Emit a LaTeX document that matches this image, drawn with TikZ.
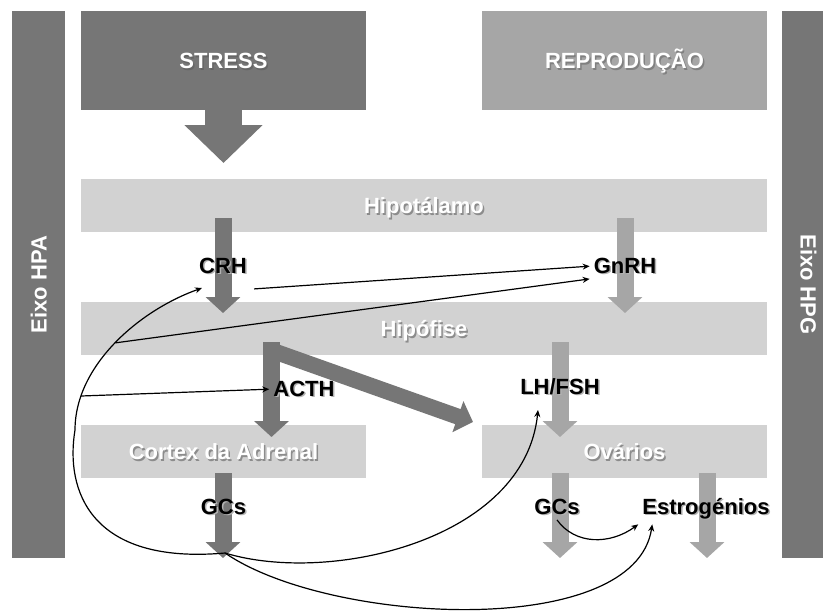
\documentclass[tikz,border=0pt]{standalone}
\usepackage{fontspec}
\setmainfont{Liberation Sans}
\usetikzlibrary{arrows.meta}
\definecolor{axisgray}{HTML}{767676}
\definecolor{midgray}{HTML}{A6A6A6}
\definecolor{bandgray}{HTML}{D2D2D2}
\newcommand\shd[2]{\rlap{\kern1.5pt\raisebox{-1.5pt}{\textcolor{#1}{#2}}}#2}
\tikzset{
  every node/.style={font=\fontsize{22}{26}\selectfont\bfseries},
  box/.style={inner sep=0pt, text height=16pt, text depth=0pt, text=white},
  darkbox/.style={box, fill=axisgray},
  midbox/.style={box, fill=midgray},
  band/.style={box, fill=bandgray},
  hormone/.style={inner sep=4pt, anchor=base},
  blockdark/.style={draw=axisgray, line width=17pt, -{Triangle[length=16pt,width=34pt]}},
  blocklight/.style={draw=midgray, line width=17pt, -{Triangle[length=16pt,width=34pt]}},
  link/.style={-{Stealth[length=7pt,width=6pt]}, line width=1.2pt}
}
\begin{document}
\begin{tikzpicture}[x=1pt,y=-1pt]
\clip (0,0) rectangle (823,614);
\fill[white] (0,0) rectangle (823,614);
\node[darkbox, rotate=90, minimum width=547pt, minimum height=53pt] (hpa) at (38.5,284.5) {Eixo HPA};
\node[darkbox, rotate=-90, minimum width=547pt, minimum height=53pt] (hpg) at (808.5,284.5) {Eixo HPG};
\node[darkbox, minimum width=285pt, minimum height=99pt] (stress) at (223.5,60.5) {\shd{black!60}{STRESS}};
\node[midbox, minimum width=285pt, minimum height=99pt] (repro) at (624.5,60.5) {\shd{black!50}{REPRODUÇÃO}};
\node[band, minimum width=686pt, minimum height=53pt] (hipot) at (424,205.5) {\shd{black!45}{Hipotálamo}};
\node[band, minimum width=686pt, minimum height=53pt] (hipof) at (424,328.5) {\shd{black!45}{Hipófise}};
\node[band, minimum width=285pt, minimum height=53pt] (cortex) at (223.5,451.5) {\shd{black!45}{Cortex da Adrenal}};
\node[band, minimum width=285pt, minimum height=53pt] (ovarios) at (624.5,451.5) {\shd{black!45}{Ovários}};
\draw[draw=axisgray, line width=37pt, -{Triangle[length=38pt,width=76pt]}] ([yshift=1pt]stress.south) -- (223.5,163);
\draw[blockdark] (223,218) -- (223,313);
\draw[blocklight] (625,218) -- (625,313);
\draw[blockdark] (271.5,342) -- (271.5,437);
\draw[blockdark, line width=16pt, -{Triangle[length=16pt,width=32pt]}] (276,352) -- (473,422);
\draw[blocklight] (560,342) -- (560,437);
\draw[blockdark] (223,473) -- (223,558);
\draw[blocklight] (560,473) -- (560,558);
\draw[blocklight] (707,473) -- (707,558);
\node[hormone] (crh) at (223,273) {\shd{black!30}{CRH}};
\node[hormone] (gnrh) at (625,273) {\shd{black!30}{GnRH}};
\node[hormone] (acth) at (304,396) {\shd{black!30}{ACTH}};
\node[hormone] (lhfsh) at (560,394) {\shd{black!30}{LH/FSH}};
\node[hormone] (gcsA) at (223.5,514) {\shd{black!30}{GCs}};
\node[hormone] (gcsO) at (557,514) {\shd{black!30}{GCs}};
\node[hormone] (estro) at (706,514) {\shd{black!30}{Estrogénios}};
\coordinate (gcsout) at (225,553);
\coordinate (crhin) at (202,288);
\coordinate (lhin) at (538,410);
\draw[link] (gcsout) .. controls (90,565) and (65,490) .. (75,430)
  .. controls (75,365) and (140,310) .. (crhin)
  coordinate[pos=0.18] (acthfrom) coordinate[pos=0.5] (hipofrom);
\draw[link] ([shift={(3pt,-10pt)}]crh.south east) -- (gnrh.west);
\draw[link] (hipofrom) -- (gnrh.south west);
\draw[link] (acthfrom) -- (acth.west);
\draw[link] (gcsout) .. controls (330,585) and (525,540) .. (lhin);
\draw[link] (gcsout) .. controls (330,625) and (635,640) .. ([xshift=14pt]estro.south west);
\draw[link] (gcsO.south) .. controls (575,545) and (610,545) .. (estro.south west);
\end{tikzpicture}
\end{document}
